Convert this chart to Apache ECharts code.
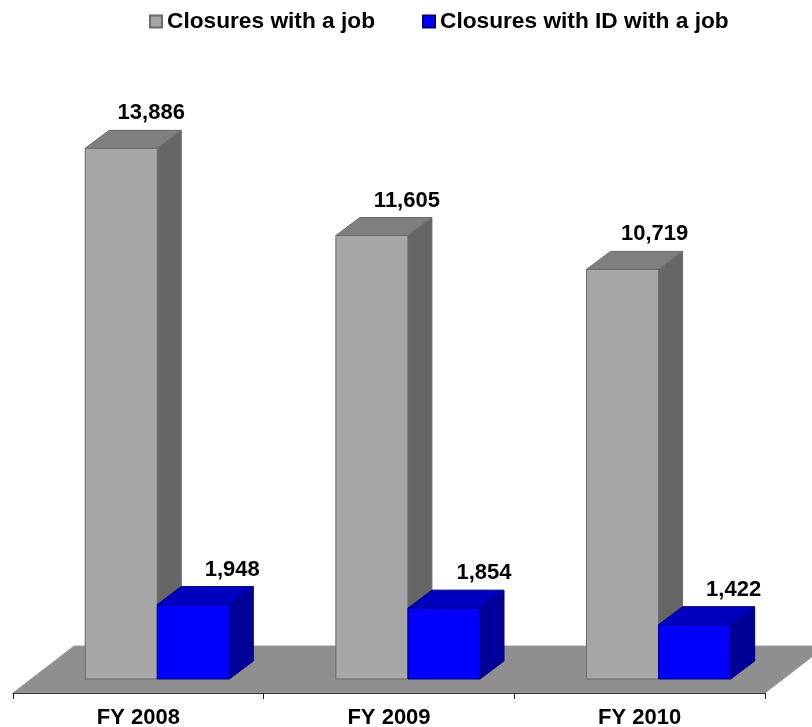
<!DOCTYPE html>
<html>
<head>
<meta charset="utf-8">
<title>Closures with a job</title>
<script src="https://cdn.jsdelivr.net/npm/echarts@6/dist/echarts.min.js"></script>
<style>
  html, body { margin: 0; padding: 0; background: #fff; }
  #chart { width: 812px; height: 727px; }
</style>
</head>
<body>
<div id="chart"></div>
<script>
  const fiscalYears = ['FY 2008', 'FY 2009', 'FY 2010']
  const closuresWithJob = [13886, 11605, 10719]
  const closuresWithIdJob = [1948, 1854, 1422]

  const FONT = '"Liberation Sans", Arial, sans-serif'
  const DEPTH_X = 24
  const DEPTH_Y = 18
  const FLOOR_DROP = 14 // front edge of the floor sits below the bars

  const greyBar = { front: '#a6a6a6', top: '#7f7f7f', side: '#666666', line: '#6b6b6b' }
  const blueBar = { front: '#0000ff', top: '#0000c0', side: '#000099', line: '#000080' }

  const fmt = v => v.toLocaleString('en-US')

  function box(colors, opts) {
    return function(params, api) {
      const band = api.size([1, 0])[0]
      const w = band * 0.2875
      const base = api.coord([api.value(0), 0])
      const top = api.coord([api.value(0), api.value(1)])
      // centre of the pair is pushed right, same as the 3d projection in the original
      const x0 = base[0] + band * 0.0755 + opts.bar * w
      const x1 = x0 + w
      const yb = base[1]
      const yt = top[1]
      return {
        type: 'group',
        children: [
          { type: 'polygon', shape: { points: [[x1, yb], [x1 + DEPTH_X, yb - DEPTH_Y], [x1 + DEPTH_X, yt - DEPTH_Y], [x1, yt]] },
            style: { fill: colors.side, stroke: colors.line, lineWidth: 1 } },
          { type: 'polygon', shape: { points: [[x0, yt], [x1, yt], [x1 + DEPTH_X, yt - DEPTH_Y], [x0 + DEPTH_X, yt - DEPTH_Y]] },
            style: { fill: colors.top, stroke: colors.line, lineWidth: 1 } },
          { type: 'rect', shape: { x: x0, y: yt, width: w, height: yb - yt },
            style: { fill: colors.front, stroke: colors.line, lineWidth: 1 } },
          { type: 'text', x: x0 + w / 2 + opts.labelX[params.dataIndex], y: yt - 35,
            style: { text: fmt(api.value(1)), fill: '#000', font: 'bold 22px ' + FONT, align: 'center', verticalAlign: 'middle' } }
        ]
      }
    }
  }

  function floor(params) {
    const c = params.coordSys
    const y = c.y + c.height + FLOOR_DROP
    const dx = 61
    const dy = 47
    return {
      type: 'polygon',
      shape: { points: [[c.x, y], [c.x + c.width, y], [c.x + c.width + dx, y - dy], [c.x + dx, y - dy]] },
      style: { fill: '#8f8f8f', stroke: '#9a9a9a', lineWidth: 1 }
    }
  }

  const chart = echarts.init(document.getElementById('chart'))
  chart.setOption({
    animation: false,
    legend: {
      data: [
        { name: 'Closures with a job', icon: 'rect' },
        { name: 'Closures with ID with a job', icon: 'rect' }
      ],
      left: 144,
      top: 5,
      itemWidth: 12,
      itemHeight: 12,
      itemGap: 47,
      textStyle: { fontFamily: FONT, fontWeight: 'bold', fontSize: 22.7, color: '#000' }
    },
    grid: { left: 13, right: 47, top: 144, bottom: 48, outerBoundsMode: 'none' },
    xAxis: {
      type: 'category',
      data: fiscalYears,
      offset: 14,
      z: 5,
      axisLine: { onZero: false, lineStyle: { color: '#333', width: 1 } },
      axisTick: { show: true, alignWithLabel: false, length: 6, lineStyle: { color: '#222' } },
      axisLabel: { color: '#000', fontFamily: FONT, fontWeight: 'bold', fontSize: 22, margin: 14 }
    },
    yAxis: { type: 'value', min: 0, max: 14000, show: false },
    series: [
      {
        name: 'floor', type: 'custom', clip: false, silent: true, z: 1,
        renderItem: floor, data: [[0, 0]], encode: { x: 0, y: 1 }
      },
      {
        name: 'Closures with a job', type: 'custom', clip: false, z: 2,
        itemStyle: { color: greyBar.front, borderColor: greyBar.line, borderWidth: 1 },
        renderItem: box(greyBar, { bar: -1, labelX: [30, 35, 32] }),
        data: closuresWithJob.map((v, i) => [i, v]), encode: { x: 0, y: 1 }
      },
      {
        name: 'Closures with ID with a job', type: 'custom', clip: false, z: 3,
        itemStyle: { color: blueBar.front, borderColor: blueBar.line, borderWidth: 1 },
        renderItem: box(blueBar, { bar: 0, labelX: [39, 40, 39] }),
        data: closuresWithIdJob.map((v, i) => [i, v]), encode: { x: 0, y: 1 }
      }
    ]
  })
</script>
</body>
</html>
